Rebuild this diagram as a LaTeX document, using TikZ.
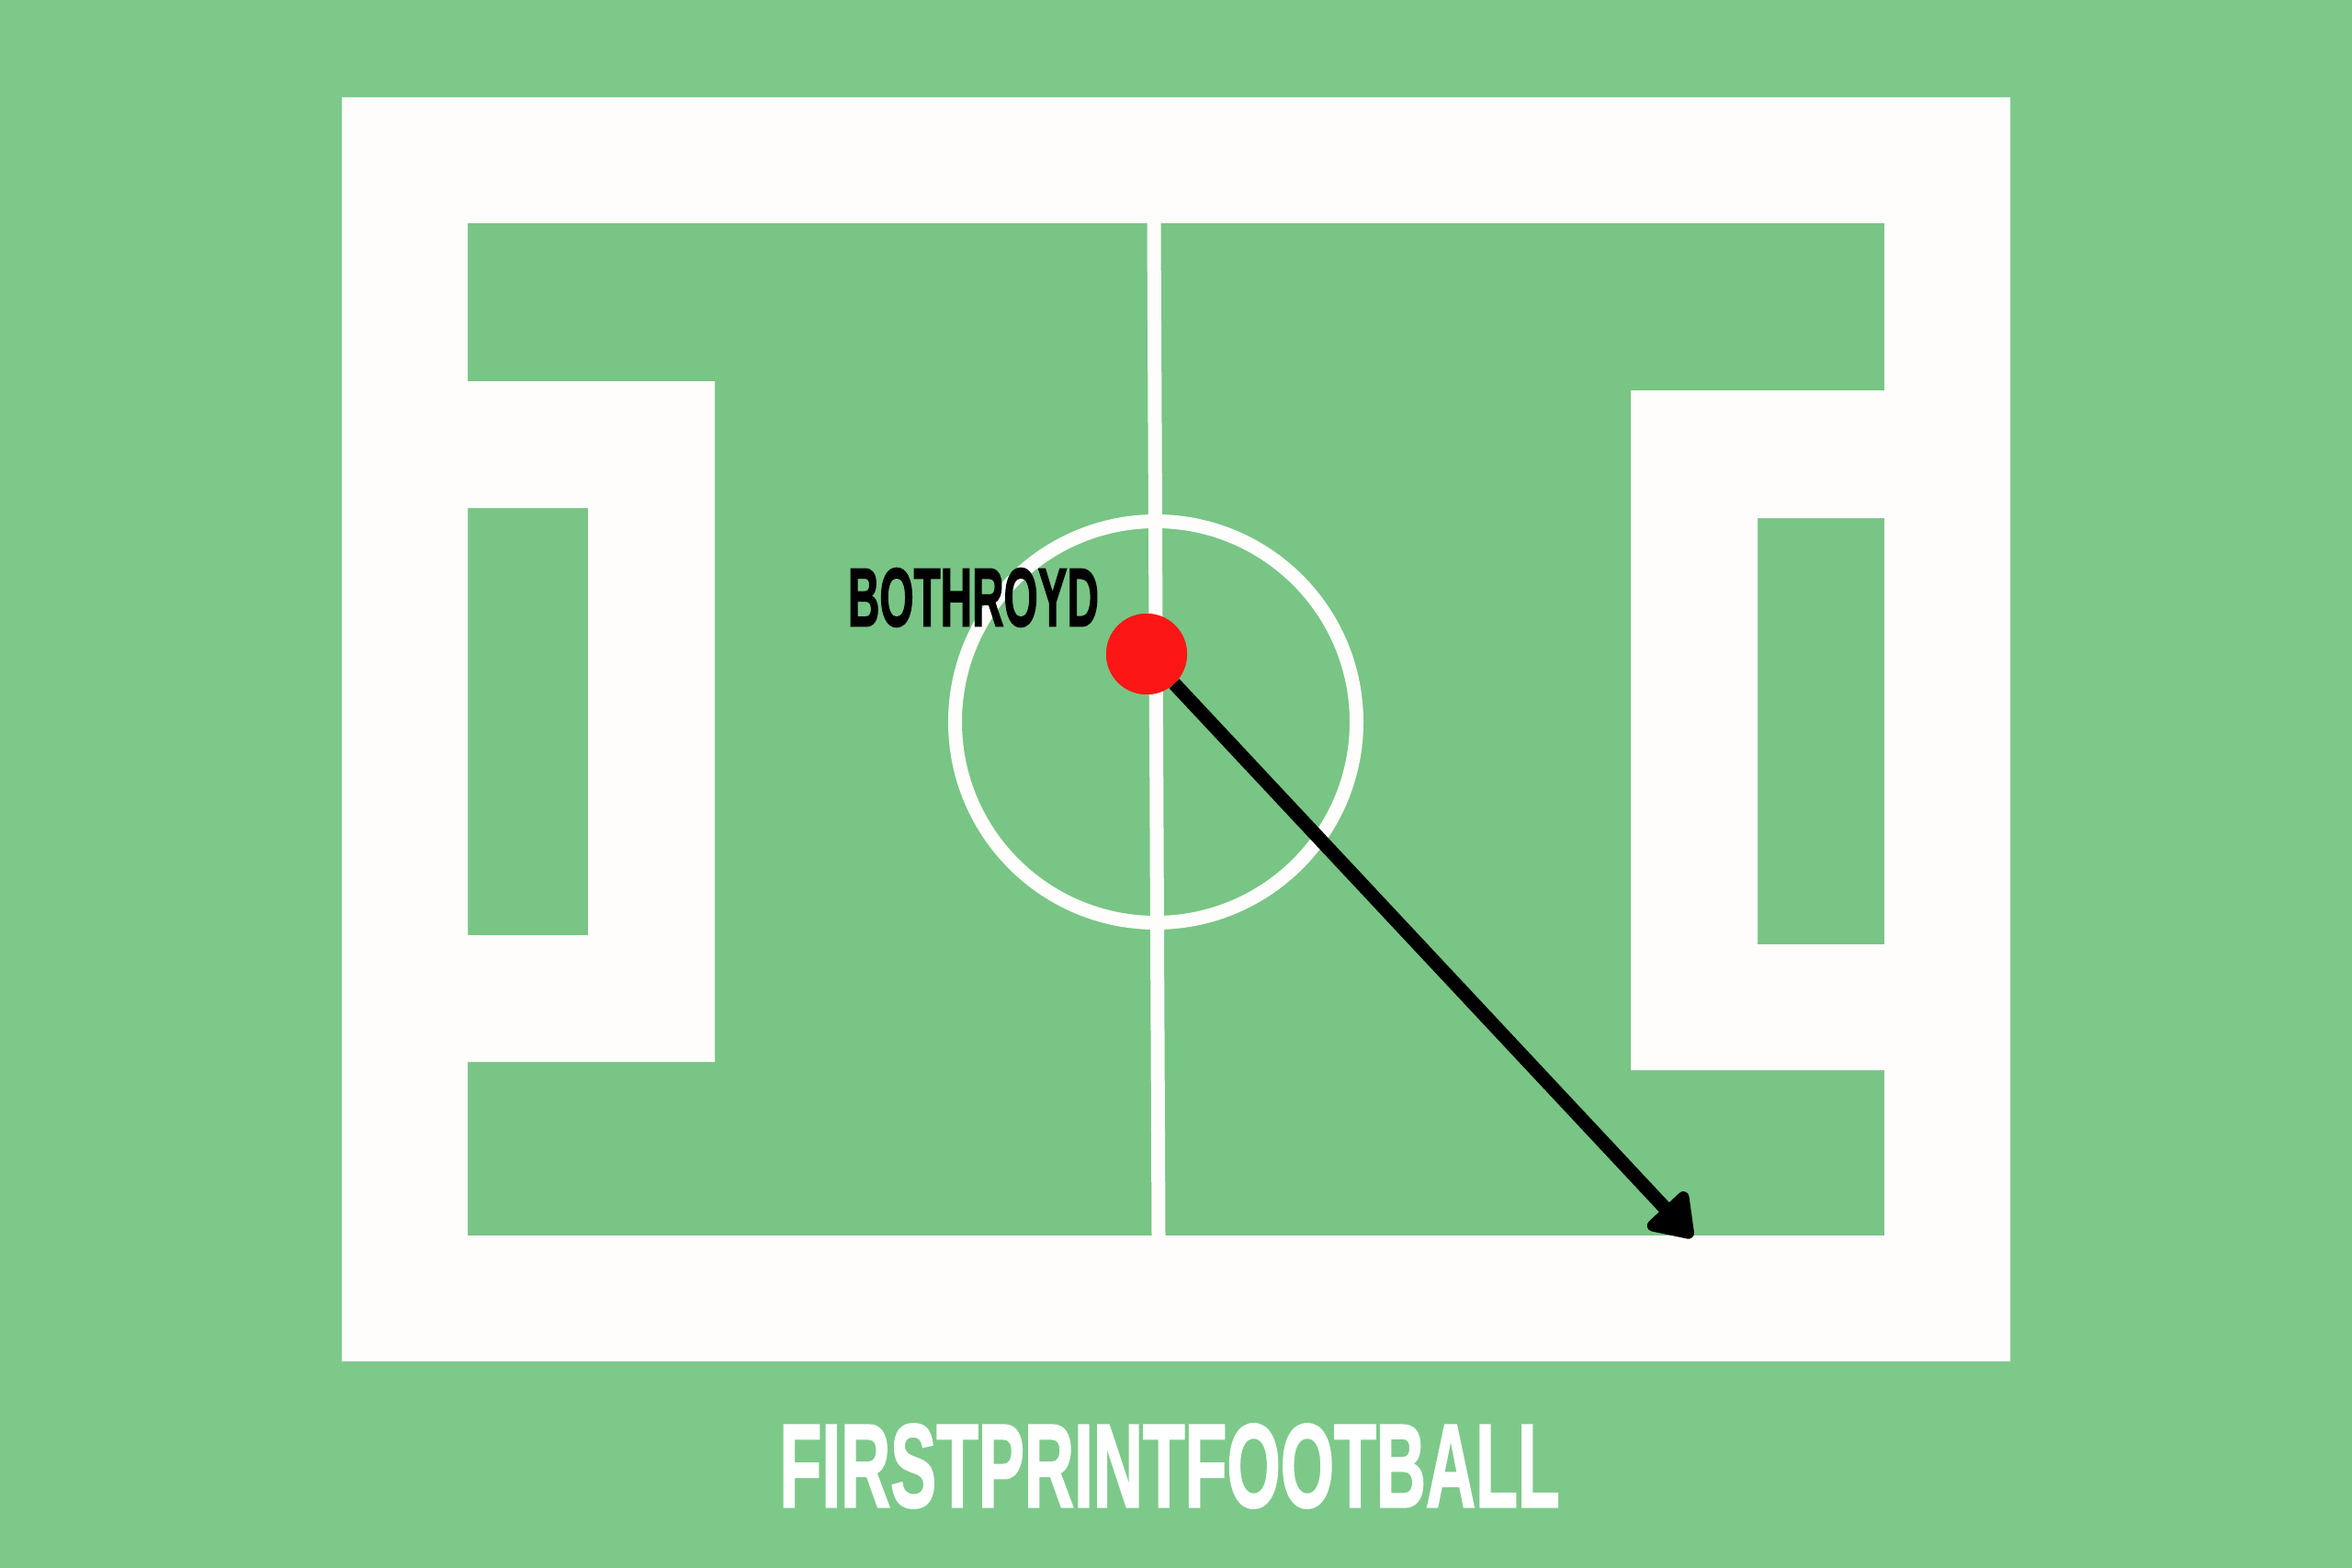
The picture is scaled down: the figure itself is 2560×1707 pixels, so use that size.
\documentclass[tikz,border=0pt]{standalone}
\usepackage{fontspec}
\setmainfont{Liberation Sans}
\newfontfamily\postfont{Liberation Sans}[BoldFeatures={FakeBold=2}]
\usetikzlibrary{arrows.meta}
\definecolor{grass}{RGB}{125,201,138}
\definecolor{grassdark}{RGB}{120,197,133}
\definecolor{pitchwhite}{RGB}{254,253,251}
\definecolor{dotred}{RGB}{252,22,22}
\tikzset{
  chalk/.style={fill=pitchwhite, even odd rule},
  chalkline/.style={draw=pitchwhite, line width=15pt},
  playerdot/.style={circle, fill=dotred, minimum size=88pt, inner sep=0pt},
  namelabel/.style={inner sep=0pt, text=black},
  brandlabel/.style={inner sep=0pt, text=white},
  runarrow/.style={draw=black, line width=15pt, -{Triangle[length=50pt,width=66pt,round]}}
}
\begin{document}
\begin{tikzpicture}[x=1pt,y=-1pt]
  \useasboundingbox (0,0) rectangle (2560,1707);
  \fill[grass] (0,0) rectangle (2560,1707);
  \fill[grassdark] (509,243) rectangle (2051,1345);
  % outer frame
  \fill[chalk] (372,106) rectangle (2188,1482) (509,243) rectangle (2051,1345);
  % left penalty box
  \fill[chalk] (509,415) rectangle (778,1156) (509,553) rectangle (640,1018);
  % right penalty box
  \fill[chalk] (1775,425) rectangle (2051,1165) (1913,564) rectangle (2051,1028);
  % halfway line
  \coordinate (midtop) at (1256,243);
  \coordinate (midbot) at (1261,1345);
  \draw[chalkline] (midtop) -- (midbot);
  % centre circle
  \coordinate (centre) at (1258,786);
  \draw[chalkline] (centre) circle[radius=218.5];
  % player and run
  \node[playerdot] (dot) at (1248,712) {};
  \coordinate (tip) at (1842,1347);
  \draw[runarrow] (dot) -- (tip);
  \node[playerdot] at (dot) {};
  % labels
  \node[namelabel] (name) at (1059.5,650.5) {\resizebox{273pt}{63pt}{\postfont\bfseries BOTHROYD}};
  \node[brandlabel] (brand) at (1273,1596) {\resizebox{849pt}{90pt}{\postfont\bfseries FIRSTPRINTFOOTBALL}};
\end{tikzpicture}
\end{document}
